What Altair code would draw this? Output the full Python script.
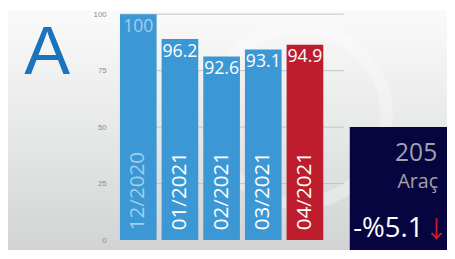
import altair as alt
import pandas as pd

# ---- data ----
months = ["12/2020", "01/2021", "02/2021", "03/2021", "04/2021"]
index_labels = [100, 96.2, 92.6, 93.1, 94.9]       # printed index values
bar_levels = [100, 89.0, 81.3, 84.4, 86.5]         # bar tops as read on the 0-100 axis
grid_values = [25, 50, 75, 100]
axis_values = [0, 25, 50, 75, 100]
base_month = "12/2020"
current_month = "04/2021"
big_letter = "A"
count_text = "205"
unit_text = "Araç"
change_text = "-%5.1"
arrow_text = "↓"

bars_df = pd.DataFrame({"month": months, "level": bar_levels, "label": index_labels})
grid_df = pd.DataFrame({"g": grid_values})
one = pd.DataFrame({"k": [0]})

W, H = 207, 230
PL, PT, PR, PB = 114, 4, 126, 17

BLUE = "#3c98d4"
RED = "#be1d2d"
FADED = "#a3cdec"

x_scale = alt.Scale(paddingInner=0.12, paddingOuter=0)
y_scale = alt.Scale(domain=[0, 100], nice=False)
y_axis = alt.Axis(values=axis_values, domain=False, ticks=False, grid=False,
                  title=None, labelColor="#8e8e8e", labelFontSize=8,
                  labelFont="Liberation Sans", labelPadding=14, zindex=1)

bg = alt.Chart(one).mark_rect(
    color=alt.LinearGradient(
        gradient="linear",
        stops=[alt.GradientStop(color="#fafafa", offset=0),
               alt.GradientStop(color="#e7e8e8", offset=0.5),
               alt.GradientStop(color="#d2d3d4", offset=1)],
        x1=0, x2=0, y1=0, y2=1,
    )
).encode(x=alt.value(-PL), x2=alt.value(W + PR), y=alt.value(-PT), y2=alt.value(240))

ring = alt.Chart(one).mark_arc(color="white", opacity=0.3, innerRadius=83, outerRadius=96,
                               theta=0, theta2=6.2832).encode(
    x=alt.value(182), y=alt.value(103))

grid = alt.Chart(grid_df).mark_rule(color="#c2c2c2", strokeWidth=1).encode(
    y=alt.Y("g:Q", scale=y_scale, axis=y_axis),
    x=alt.value(0), x2=alt.value(228),
)

base = alt.Chart(bars_df)

bars = base.mark_bar().encode(
    x=alt.X("month:N", sort=None, scale=x_scale, axis=None),
    y=alt.Y("level:Q", scale=y_scale, axis=y_axis),
    color=alt.condition(alt.datum.month == current_month, alt.value(RED), alt.value(BLUE)),
)

val_labels = base.mark_text(baseline="top", align="center", dy=4, fontSize=18,
                            font="Open Sans").encode(
    x=alt.X("month:N", sort=None, scale=x_scale),
    y=alt.Y("level:Q", scale=y_scale),
    text=alt.Text("label:Q", format=".1~f"),
    color=alt.condition(alt.datum.month == base_month, alt.value(FADED), alt.value("white")),
)

date_labels = base.mark_text(angle=270, align="left", baseline="middle", dx=10,
                             fontSize=21, font="Open Sans").encode(
    x=alt.X("month:N", sort=None, scale=x_scale),
    y=alt.YDatum(0, scale=y_scale),
    text="month:N",
    color=alt.condition(alt.datum.month == base_month, alt.value(FADED), alt.value("white")),
)

letter = alt.Chart(one).mark_text(text=big_letter, fontSize=70, font="Liberation Sans",
                                  color="#1a73bd", align="center", baseline="alphabetic").encode(
    x=alt.value(-74), y=alt.value(61))

box = alt.Chart(one).mark_rect(color="#07053f").encode(
    x=alt.value(234), x2=alt.value(W + PR), y=alt.value(115), y2=alt.value(240))

t_count = alt.Chart(one).mark_text(text=count_text, fontSize=25, font="Open Sans",
                                   color="#a2a2aa", align="right", baseline="alphabetic").encode(
    x=alt.value(323), y=alt.value(149))
t_unit = alt.Chart(one).mark_text(text=unit_text, fontSize=20, font="Open Sans",
                                  color="#a2a2aa", align="right", baseline="alphabetic").encode(
    x=alt.value(324), y=alt.value(177))
t_change = alt.Chart(one).mark_text(text=change_text, fontSize=28, font="Open Sans",
                                    color="white", align="right", baseline="alphabetic").encode(
    x=alt.value(309), y=alt.value(227))
t_arrow = alt.Chart(one).mark_text(text=arrow_text, fontSize=24, font="Noto Sans CJK JP",
                                   color="#cc1f2d", align="center", baseline="alphabetic").encode(
    x=alt.value(322), y=alt.value(228))

chart = alt.layer(bg, ring, grid, bars, val_labels, date_labels, letter, box,
                  t_count, t_unit, t_change, t_arrow).properties(
    width=W, height=H,
    autosize=alt.AutoSizeParams(type="none"),
    padding={"left": PL, "top": PT, "right": PR, "bottom": PB},
).configure_view(stroke=None)

chart.save("out.html", embed_options={"renderer": "svg", "actions": False})
